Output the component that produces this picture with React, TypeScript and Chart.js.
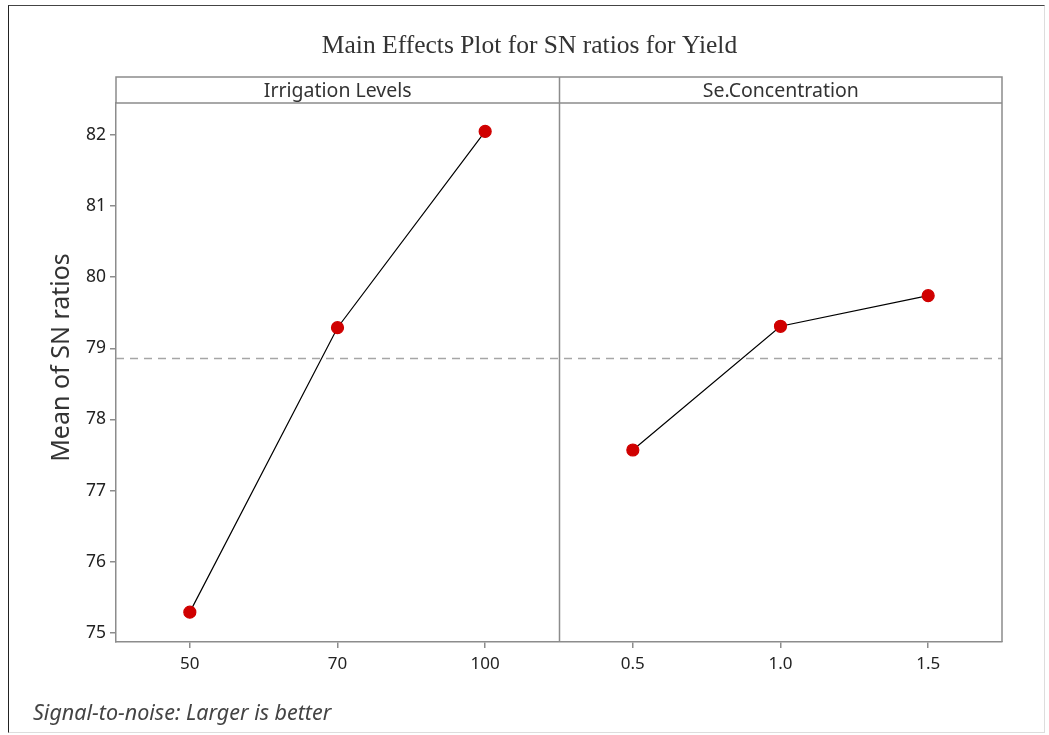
import React, { useEffect, useRef } from "react";
import { Chart, registerables } from "chart.js";

Chart.register(...registerables);

const categories = ["50", "70", "100", "0.5", "1.0", "1.5"];
const panelTitles = ["Irrigation Levels", "Se.Concentration"];
const irrigationMeans = [75.29, 79.29, 82.05, null, null, null];
const seMeans = [null, null, null, 77.57, 79.31, 79.74];
const grandMean = 78.87;
const yTicks = [75, 76, 77, 78, 79, 80, 81, 82];
const yMin = 74.87;
const yMax = 82.45;

const chartTitle = "Main Effects Plot for SN ratios for Yield";
const footnote = "Signal-to-noise: Larger is better";
const yTitle = "Mean of SN ratios";

const FRAME = "#8c8c8c";
const SANS = "'Noto Sans', 'Open Sans', sans-serif";

const decorPlugin = {
  id: "decor",
  beforeDatasetsDraw(chart: any) {
    const { ctx, chartArea, scales } = chart;
    const { left, right } = chartArea;
    const y = scales.y;
    ctx.save();
    const ym = Math.round(y.getPixelForValue(grandMean)) + 0.5;
    ctx.strokeStyle = "#a6a6a6";
    ctx.lineWidth = 1.5;
    ctx.setLineDash([8, 6]);
    ctx.beginPath();
    ctx.moveTo(left, ym);
    ctx.lineTo(right, ym);
    ctx.stroke();
    ctx.restore();
  },
  afterDraw(chart: any) {
    const { ctx, chartArea, scales } = chart;
    const { left, right, top, bottom } = chartArea;
    const x = scales.x;
    ctx.save();
    const headerH = 26;
    const sep = Math.round((x.getPixelForValue(2) + x.getPixelForValue(3)) / 2) + 0.5;
    ctx.strokeStyle = FRAME;
    ctx.lineWidth = 1.5;
    ctx.setLineDash([]);
    ctx.beginPath();
    ctx.moveTo(left, top);
    ctx.lineTo(left, top - headerH);
    ctx.lineTo(right, top - headerH);
    ctx.lineTo(right, bottom);
    ctx.moveTo(left, top);
    ctx.lineTo(right, top);
    ctx.moveTo(sep, top - headerH);
    ctx.lineTo(sep, bottom);
    ctx.stroke();

    ctx.fillStyle = "#333333";
    ctx.font = `19.5px ${SANS}`;
    ctx.textAlign = "center";
    ctx.textBaseline = "middle";
    ctx.fillText(panelTitles[0], (left + sep) / 2, top - headerH / 2 + 1);
    ctx.fillText(panelTitles[1], (sep + right) / 2, top - headerH / 2 + 1);

    ctx.fillStyle = "#333333";
    ctx.font = `25.5px 'Liberation Serif', 'DejaVu Serif', serif`;
    ctx.fillText(chartTitle, chart.width / 2 + 3, 40);

    // y axis title
    ctx.save();
    ctx.translate(53, (top + bottom) / 2 - 15);
    ctx.rotate(-Math.PI / 2);
    ctx.font = `25px ${SANS}`;
    ctx.fillStyle = "#333333";
    ctx.fillText(yTitle, 0, 0);
    ctx.restore();

    ctx.font = `italic 21.5px ${SANS}`;
    ctx.fillStyle = "#444444";
    ctx.textAlign = "left";
    ctx.fillText(footnote, 24, 708);
    ctx.restore();
  },
};

export default function App() {
  const ref = useRef<HTMLCanvasElement | null>(null);
  useEffect(() => {
    if (!ref.current) return;
    const chart = new Chart(ref.current, {
      type: "line",
      data: {
        labels: categories,
        datasets: [
          {
            label: panelTitles[0],
            data: irrigationMeans,
            borderColor: "#000000",
            borderWidth: 1.2,
            pointBackgroundColor: "#d00000",
            pointBorderColor: "#d00000",
            pointRadius: 6,
            spanGaps: false,
          },
          {
            label: panelTitles[1],
            data: seMeans,
            borderColor: "#000000",
            borderWidth: 1.2,
            pointBackgroundColor: "#d00000",
            pointBorderColor: "#d00000",
            pointRadius: 6,
            spanGaps: false,
          },
        ],
      },
      options: {
        animation: false,
        responsive: false,
        layout: { padding: { top: 97, right: 42, left: 0, bottom: 0 } },
        plugins: {
          legend: { display: false },
          title: { display: false },
          tooltip: { enabled: false },
        },
        scales: {
          x: {
            type: "category",
            offset: true,
            afterFit: (s: any) => {
              s.height = 90;
            },
            grid: {
              offset: false,
              drawOnChartArea: false,
              drawTicks: true,
              tickLength: 6,
              color: FRAME,
              lineWidth: 1.5,
            },
            border: { display: true, color: FRAME, width: 1.5 },
            ticks: {
              color: "#222222",
              font: { family: SANS, size: 17 },
              padding: 6,
              maxRotation: 0,
            },
          },
          y: {
            type: "linear",
            min: yMin,
            max: yMax,
            afterFit: (s: any) => {
              s.width = 107;
            },
            afterBuildTicks: (s: any) => {
              s.ticks = yTicks.map((v) => ({ value: v }));
            },
            grid: {
              drawOnChartArea: false,
              drawTicks: true,
              tickLength: 6,
              color: FRAME,
              lineWidth: 1.5,
            },
            border: { display: true, color: FRAME, width: 1.5 },
            ticks: {
              color: "#222222",
              font: { family: SANS, size: 17.5 },
              padding: 4,
              includeBounds: false,
              callback: (v: any) => String(v),
            },
            title: { display: false },
          },
        },
      },
      plugins: [decorPlugin],
    });
    return () => chart.destroy();
  }, []);
  return (
    <div
      style={{
        position: "absolute",
        left: 8,
        top: 5,
        width: 1035,
        height: 726,
        borderTop: "1px solid #444",
        borderLeft: "1px solid #222",
        borderRight: "1px solid #dddddd",
        borderBottom: "1px solid #dddddd",
        background: "#ffffff",
      }}
    >
      <canvas ref={ref} width={1035} height={726} style={{ display: "block" }} />
    </div>
  );
}
